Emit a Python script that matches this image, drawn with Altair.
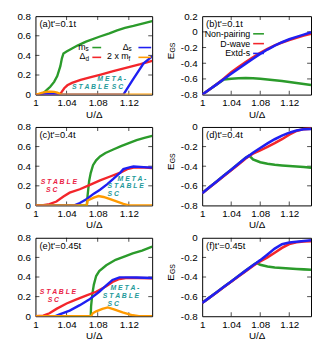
import altair as alt
import pandas as pd

FONT = "Liberation Sans"
GREEN = "#2b9b2b"
RED = "#f3262b"
BLUE = "#1f1ff2"
ORANGE = "#ff9a00"
TEAL = "#1f9a9a"
PINK = "#ea2245"

X_DOMAIN = [1.0, 1.15]
X_TICKS = [1.0, 1.04, 1.08, 1.12]
OP_TICKS = [0.0, 0.2, 0.4, 0.6, 0.8]
EB_TICKS = [-0.8, -0.6, -0.4, -0.2, 0.0, 0.2]
ED_TICKS = [-0.8, -0.6, -0.4, -0.2, 0.0]

# ---------------- panel (a): t'=0.1t, order parameters ----------------
ms_a_x = [1.000, 1.009, 1.011, 1.015, 1.019, 1.024, 1.028, 1.032, 1.034, 1.036, 1.040, 1.047, 1.054, 1.065, 1.082, 1.095, 1.105, 1.115, 1.126, 1.140, 1.150]
ms_a_y = [0.000, 0.000, 0.020, 0.050, 0.080, 0.130, 0.190, 0.290, 0.370, 0.420, 0.440, 0.470, 0.500, 0.540, 0.590, 0.625, 0.655, 0.680, 0.700, 0.730, 0.750]
dd_a_x = [1.000, 1.031, 1.034, 1.037, 1.041, 1.047, 1.058, 1.070, 1.084, 1.100, 1.110, 1.120, 1.135, 1.150]
dd_a_y = [0.000, 0.000, 0.030, 0.065, 0.095, 0.120, 0.150, 0.175, 0.205, 0.240, 0.260, 0.280, 0.310, 0.345]
ds_a_x = [1.000, 1.005, 1.010, 1.020, 1.030, 1.034, 1.113, 1.125, 1.139, 1.150]
ds_a_y = [0.000, 0.004, 0.007, 0.008, 0.005, 0.000, 0.000, 0.150, 0.320, 0.390]
mf_a_x = [1.000, 1.004, 1.008, 1.012, 1.016, 1.020, 1.024, 1.028, 1.032, 1.035, 1.150]
mf_a_y = [0.000, 0.008, 0.018, 0.025, 0.029, 0.030, 0.028, 0.020, 0.006, 0.000, 0.000]

# ---------------- panel (b): t'=0.1t, energies ----------------
eb_x = [1.00, 1.01, 1.02, 1.03, 1.04, 1.05, 1.06, 1.07, 1.08, 1.09, 1.10, 1.11, 1.12, 1.13, 1.14, 1.15]
np_b = [-0.800, -0.735, -0.670, -0.608, -0.598, -0.592, -0.590, -0.592, -0.598, -0.606, -0.616, -0.627, -0.639, -0.652, -0.665, -0.678]
dw_b = [-0.800, -0.735, -0.668, -0.595, -0.515, -0.450, -0.385, -0.325, -0.268, -0.218, -0.172, -0.135, -0.103, -0.074, -0.048, -0.025]
es_b = [-0.800, -0.735, -0.670, -0.602, -0.535, -0.470, -0.405, -0.342, -0.280, -0.225, -0.175, -0.132, -0.095, -0.064, -0.035, -0.005]

# ---------------- panel (c): t'=0.4t ----------------
ms_c_x = [1.000, 1.066, 1.067, 1.069, 1.071, 1.074, 1.078, 1.083, 1.090, 1.100, 1.110, 1.120, 1.130, 1.140, 1.150]
ms_c_y = [0.000, 0.000, 0.100, 0.250, 0.330, 0.410, 0.460, 0.500, 0.535, 0.570, 0.605, 0.635, 0.665, 0.690, 0.710]
dd_c_x = [1.000, 1.010, 1.018, 1.027, 1.036, 1.044, 1.057, 1.070, 1.083, 1.096, 1.109, 1.118, 1.126, 1.140, 1.150]
dd_c_y = [0.000, 0.003, 0.013, 0.040, 0.090, 0.130, 0.165, 0.210, 0.255, 0.295, 0.335, 0.370, 0.385, 0.385, 0.380]
ds_c_x = [1.000, 1.050, 1.057, 1.066, 1.075, 1.083, 1.092, 1.100, 1.109, 1.113, 1.122, 1.126, 1.139, 1.150]
ds_c_y = [0.000, 0.000, 0.025, 0.065, 0.120, 0.160, 0.215, 0.270, 0.335, 0.370, 0.390, 0.397, 0.390, 0.385]
mf_c_x = [1.000, 1.066, 1.067, 1.075, 1.081, 1.0875, 1.096, 1.105, 1.113, 1.120, 1.150]
mf_c_y = [0.000, 0.000, 0.050, 0.080, 0.096, 0.086, 0.064, 0.038, 0.015, 0.000, 0.000]

# ---------------- panel (d): t'=0.4t energies ----------------
ed_x = [1.00, 1.01, 1.02, 1.03, 1.04, 1.05, 1.06, 1.065, 1.07, 1.08, 1.09, 1.10, 1.11, 1.12, 1.13, 1.14, 1.15]
np_d = [-0.675, -0.615, -0.555, -0.495, -0.435, -0.375, -0.315, -0.292, -0.330, -0.360, -0.375, -0.385, -0.392, -0.398, -0.403, -0.409, -0.415]
dw_d = [-0.675, -0.616, -0.558, -0.500, -0.442, -0.383, -0.322, -0.295, -0.272, -0.238, -0.202, -0.165, -0.125, -0.078, -0.040, -0.022, -0.017]
es_d = [-0.675, -0.615, -0.555, -0.495, -0.435, -0.375, -0.315, -0.290, -0.262, -0.214, -0.168, -0.125, -0.088, -0.058, -0.036, -0.024, -0.020]

# ---------------- panel (e): t'=0.45t ----------------
ms_e_x = [1.000, 1.071, 1.0715, 1.073, 1.075, 1.078, 1.082, 1.091, 1.103, 1.115, 1.125, 1.137, 1.150]
ms_e_y = [0.000, 0.000, 0.100, 0.220, 0.320, 0.410, 0.460, 0.520, 0.575, 0.610, 0.640, 0.670, 0.710]
dd_e_x = [1.000, 1.010, 1.018, 1.027, 1.040, 1.052, 1.065, 1.078, 1.091, 1.099, 1.108, 1.116, 1.130, 1.150]
dd_e_y = [0.000, 0.006, 0.030, 0.075, 0.130, 0.170, 0.210, 0.250, 0.305, 0.350, 0.380, 0.390, 0.390, 0.387]
ds_e_x = [1.000, 1.025, 1.031, 1.044, 1.057, 1.069, 1.082, 1.091, 1.099, 1.108, 1.116, 1.130, 1.150]
ds_e_y = [0.000, 0.000, 0.020, 0.058, 0.113, 0.170, 0.250, 0.315, 0.370, 0.397, 0.397, 0.395, 0.390]
mf_e_x = [1.000, 1.0715, 1.0736, 1.078, 1.086, 1.093, 1.101, 1.112, 1.125, 1.133, 1.150]
mf_e_y = [0.000, 0.000, 0.030, 0.050, 0.075, 0.090, 0.070, 0.040, 0.010, 0.000, 0.000]

# ---------------- panel (f): t'=0.45t energies ----------------
ef_x = [1.00, 1.01, 1.02, 1.03, 1.04, 1.05, 1.06, 1.07, 1.075, 1.08, 1.09, 1.10, 1.11, 1.12, 1.13, 1.14, 1.15]
np_f = [-0.665, -0.610, -0.555, -0.500, -0.445, -0.390, -0.335, -0.280, -0.255, -0.275, -0.293, -0.302, -0.308, -0.313, -0.318, -0.322, -0.325]
dw_f = [-0.665, -0.611, -0.557, -0.502, -0.448, -0.394, -0.340, -0.287, -0.262, -0.240, -0.200, -0.152, -0.103, -0.064, -0.045, -0.038, -0.034]
es_f = [-0.665, -0.610, -0.555, -0.500, -0.445, -0.390, -0.335, -0.280, -0.255, -0.228, -0.170, -0.110, -0.065, -0.048, -0.040, -0.033, -0.025]

SP = "\u2002"
# annotations (x, y, text, colour)
notes_a = [(1.098, 0.158, "M E T A -", TEAL), (1.080, 0.078, "S T A B L E" + SP + "S C", TEAL)]
notes_c = [(1.030, 0.240, "S T A B L E", PINK), (1.021, 0.152, "S C", PINK),
           (1.124, 0.272, "M E T A -", TEAL), (1.116, 0.195, "S T A B L E", TEAL), (1.100, 0.120, "S C", TEAL)]
notes_e = [(1.029, 0.250, "S T A B L E", PINK), (1.023, 0.162, "S C", PINK),
           (1.115, 0.288, "M E T A -", TEAL), (1.110, 0.205, "S T A B L E", TEAL), (1.100, 0.125, "S C", TEAL)]

panel_labels = ["(a)t'=0.1t", "(b)t'=0.1t", "(c)t'=0.4t", "(d)t'=0.4t", "(e)t'=0.45t", "(f)t'=0.45t"]

LW, LH = 119, 80
RW, RH = 111, 80

LABEL_EXPR = "replace(format(datum.value, '~g'), '\u2212', '-')"
DUMMY = pd.DataFrame({"d": [0]})


def encs(ydom, yticks, ytitle):
    x = alt.X("x:Q", scale=alt.Scale(domain=X_DOMAIN, nice=False, zero=False),
              axis=alt.Axis(values=X_TICKS, title="U/Δ", labelExpr=LABEL_EXPR, labelFlush=False,
                            domain=False, ticks=False, grid=False, labelPadding=3, titlePadding=2,
                            labelFont=FONT, labelFontSize=10, titleFont=FONT, titleFontSize=10,
                            titleFontWeight="normal", labelColor="black", titleColor="black"))
    yax = dict(values=yticks, labelExpr=LABEL_EXPR, labelFlush=False, domain=False, ticks=False,
               grid=False, labelPadding=5, labelFont=FONT, labelFontSize=10, labelColor="black",
               titleFont=FONT, titleFontSize=10, titleFontWeight="normal", titleColor="black",
               titlePadding=5, titleAngle=270)
    yax["title"] = ytitle
    y = alt.Y("y:Q", scale=alt.Scale(domain=ydom, nice=False, zero=False), axis=alt.Axis(**yax))
    return x, y


def inner_ticks(yticks, x, y, w, h):
    xt = pd.DataFrame({"x": X_TICKS[1:]})
    yt = pd.DataFrame({"y": yticks[1:-1]})
    k = dict(color="black", thickness=1, size=4)
    return [
        alt.Chart(xt).mark_tick(yOffset=-2, **k).encode(x=x, y=alt.value(h)),
        alt.Chart(xt).mark_tick(yOffset=2, **k).encode(x=x, y=alt.value(0)),
        alt.Chart(yt).mark_tick(xOffset=2, **k).encode(y=y, x=alt.value(0)),
        alt.Chart(yt).mark_tick(xOffset=-2, **k).encode(y=y, x=alt.value(w)),
    ]


def line(xs, ys, color, x, y, sw=2.4):
    return alt.Chart(pd.DataFrame({"x": xs, "y": ys})).mark_line(
        color=color, strokeWidth=sw, clip=True).encode(x=x, y=y)


def notes_layer(notes, x, y):
    df = pd.DataFrame(notes, columns=["x", "y", "t", "c"])
    return alt.Chart(df).mark_text(font=FONT, fontSize=7, fontWeight="bold", fontStyle="italic").encode(
        x=x, y=y, text="t:N", color=alt.Color("c:N", scale=None))


def txt(s, px, py, align="left", size=9.5, angle=0):
    kw = dict(text=s, font=FONT, fontSize=size, align=align, baseline="middle", color="black")
    if angle:
        kw["angle"] = angle
    return alt.Chart(DUMMY).mark_text(**kw).encode(x=alt.value(px), y=alt.value(py))


def sample(c, x0, x1, py):
    return alt.Chart(DUMMY).mark_rule(color=c, strokeWidth=1.6).encode(
        x=alt.value(x0), x2=alt.value(x1), y=alt.value(py))


def op_panel(series, notes, label, legend=False):
    x, y = encs([0, 0.8], OP_TICKS, None)
    layers = inner_ticks(OP_TICKS, x, y, LW, LH)
    layers += [line(xs, ys, c, x, y) for xs, ys, c in series]
    layers.append(notes_layer(notes, x, y))
    layers.append(txt(label, 4, 8))
    if legend:
        items = [("m", "s", GREEN, 51, 58, 67, 32), ("Δ", "d", RED, 51, 58, 67, 42),
                 ("Δ", "s", BLUE, 95, 105, 118, 32), ("2 x m", "f", ORANGE, 95, 105, 118, 42)]
        for main, sub, c, xr, s0, s1, py in items:
            layers.append(txt(main, xr, py - 1, align="right", size=9))
            layers.append(txt(sub, xr, py + 2, align="left", size=6.5))
            layers.append(sample(c, s0, s1, py))
    return alt.layer(*layers).properties(width=LW, height=LH)


def e_panel(xs, npv, dwv, esv, ydom, yticks, label, legend=False):
    x, y = encs(ydom, yticks, "E")
    layers = inner_ticks(yticks, x, y, RW, RH)
    layers += [line(xs, npv, GREEN, x, y, 2.6), line(xs, dwv, RED, x, y, 2.6), line(xs, esv, BLUE, x, y, 2.6)]
    layers.append(txt(label, 4, 8))
    layers.append(txt("GS", -30, RH / 2 - 8, align="center", size=7, angle=270))
    if legend:
        for name, c, py in [("Non-pairing", GREEN, 18), ("D-wave", RED, 28), ("Extd-s", BLUE, 38)]:
            layers.append(txt(name, 49, py, align="right", size=9))
            layers.append(sample(c, 52, 63, py))
    return alt.layer(*layers).properties(width=RW, height=RH)


pa = op_panel([(ms_a_x, ms_a_y, GREEN), (dd_a_x, dd_a_y, RED), (ds_a_x, ds_a_y, BLUE), (mf_a_x, mf_a_y, ORANGE)],
              notes_a, panel_labels[0], legend=True)
pb = e_panel(eb_x, np_b, dw_b, es_b, [-0.8, 0.2], EB_TICKS, panel_labels[1], legend=True)
pc = op_panel([(ms_c_x, ms_c_y, GREEN), (dd_c_x, dd_c_y, RED), (ds_c_x, ds_c_y, BLUE), (mf_c_x, mf_c_y, ORANGE)],
              notes_c, panel_labels[2])
pd_ = e_panel(ed_x, np_d, dw_d, es_d, [-0.8, 0.0], ED_TICKS, panel_labels[3])
pe = op_panel([(ms_e_x, ms_e_y, GREEN), (dd_e_x, dd_e_y, RED), (ds_e_x, ds_e_y, BLUE), (mf_e_x, mf_e_y, ORANGE)],
              notes_e, panel_labels[4])
pf = e_panel(ef_x, np_f, dw_f, es_f, [-0.8, 0.0], ED_TICKS, panel_labels[5])

chart = alt.vconcat(
    alt.hconcat(pa, pb, spacing=12),
    alt.hconcat(pc, pd_, spacing=12),
    alt.hconcat(pe, pf, spacing=12),
    spacing=1,
).properties(
    padding={"left": 8, "top": -1, "right": 0, "bottom": 0}
).configure_view(stroke="black", strokeWidth=1)

chart.save("out.html", embed_options={"renderer": "svg", "actions": False})
